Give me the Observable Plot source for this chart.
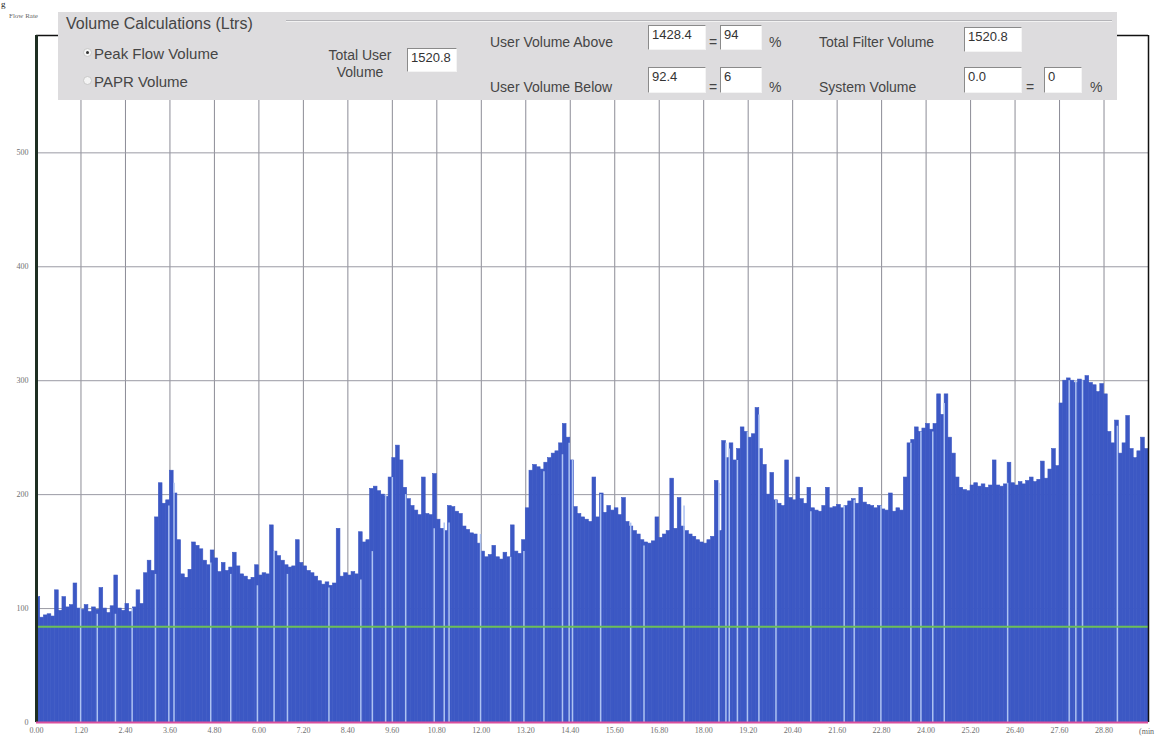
<!DOCTYPE html>
<html>
<head>
<meta charset="utf-8">
<script src="https://cdn.jsdelivr.net/npm/d3@7"></script>
<script src="https://cdn.jsdelivr.net/npm/@observablehq/plot@0.6"></script>
<style>
  html, body { margin: 0; padding: 0; background: #fff; }
  #wrap { position: relative; width: 1156px; height: 738px; overflow: hidden; font-family: "Liberation Sans", Arial, sans-serif; }
  #wrap svg { position: absolute; left: 0; top: 0; }
  .abs { position: absolute; white-space: nowrap; }
  #panel { position: absolute; left: 58px; top: 12px; width: 1059px; height: 88px; background: #dddcde; color: #454545; }
  #panel .t { position: absolute; white-space: nowrap; font-size: 14px; line-height: 16px; }
  #panel .box { position: absolute; background: #fff; border-top: 1px solid #8a8a8a; border-left: 1px solid #8a8a8a; border-right: 1px solid #f4f4f4; border-bottom: 1px solid #f4f4f4; font-size: 13px; line-height: 18px; padding-left: 3px; box-sizing: border-box; color: #333; }
  .radio { position: absolute; width: 9px; height: 9px; border-radius: 50%; border: 1px solid #c8c8c8; background: #f4f4f4; box-sizing: border-box; }
  .radio.on::after { content: ""; position: absolute; left: 2px; top: 2px; width: 3px; height: 3px; border-radius: 50%; background: #333; }
  .small { font-family: "Liberation Serif", serif; font-size: 8px; color: #666; }
</style>
</head>
<body>
<div id="wrap"></div>
<script>
// ---- data ----
const sampleStep = 0.1; // minutes per sample
const flowRate = [
  110, 92, 94, 95, 93, 116, 98, 110, 101, 103,
  122, 100, 99, 103, 97, 101, 99, 118, 100, 96,
  102, 129, 100, 98, 104, 97, 101, 116, 104, 131,
  142, 133, 180, 210, 192, 195, 221, 201, 160, 130,
  127, 134, 158, 155, 152, 142, 138, 151, 144, 132,
  140, 133, 136, 149, 137, 130, 128, 125, 127, 138,
  129, 131, 130, 173, 150, 146, 142, 138, 136, 137,
  160, 140, 137, 133, 131, 128, 124, 121, 123, 120,
  122, 170, 128, 131, 129, 132, 130, 167, 158, 160,
  205, 207, 203, 200, 198, 215, 232, 243, 230, 206,
  196, 190, 186, 182, 215, 183, 182, 218, 178, 170,
  168, 190, 189, 185, 183, 172, 169, 166, 165, 157,
  150, 145, 147, 155, 145, 143, 149, 145, 173, 150,
  148, 160, 188, 221, 226, 224, 222, 228, 232, 236,
  238, 245, 262, 250, 230, 189, 183, 180, 178, 176,
  215, 180, 201, 184, 190, 186, 188, 182, 197, 176,
  172, 168, 165, 160, 158, 157, 159, 180, 162, 165,
  168, 214, 170, 197, 172, 168, 165, 163, 160, 158,
  157, 160, 163, 212, 168, 247, 232, 245, 230, 240,
  259, 255, 250, 253, 276, 240, 226, 200, 219, 195,
  192, 190, 230, 197, 195, 215, 196, 192, 206, 188,
  186, 185, 190, 206, 188, 189, 191, 188, 190, 194,
  196, 192, 206, 193, 191, 190, 188, 190, 187, 186,
  201, 185, 188, 186, 215, 245, 248, 259, 255, 258,
  262, 257, 262, 288, 270, 288, 250, 236, 215, 206,
  204, 203, 208, 210, 207, 209, 206, 208, 230, 208,
  207, 209, 228, 210, 208, 211, 209, 212, 215, 211,
  213, 229, 214, 222, 240, 225, 280, 300, 302, 300,
  298, 301, 300, 304, 298, 296, 290, 297, 288, 255,
  245, 265, 236, 245, 269, 240, 232, 238, 250, 240
];
// light vertical streaks seen in the scan (time in min, height)
const streakTime = [1.19, 1.64, 2.13, 2.58, 3.21, 3.57, 3.71, 4.70, 5.24, 5.96, 6.41, 6.77,
  7.89, 8.75, 9.06, 9.42, 9.60, 9.96, 10.73, 11.00, 11.13, 11.98, 12.79, 13.15, 13.69, 14.19, 14.37, 14.46,
  15.22, 16.03, 16.39, 17.47, 18.41, 18.60, 18.69, 18.91, 19.18, 19.49, 19.95, 20.89, 21.79, 22.06,
  22.78, 23.59, 23.86, 24.18, 24.49, 26.20, 27.86, 28.04, 28.22, 29.16];
const streakHeight = [100, 95, 95, 100, 130, 190, 210, 140, 130, 120, 150, 130,
  118, 125, 150, 200, 215, 200, 170, 175, 175, 165, 145, 150, 220, 235, 245, 230,
  200, 175, 155, 190, 210, 245, 240, 230, 255, 270, 195, 185, 190, 195,
  190, 245, 255, 255, 280, 210, 300, 300, 300, 260];
const thresholdFlow = 84;
const xTicks = [0.00, 1.20, 2.40, 3.60, 4.80, 6.00, 7.20, 8.40, 9.60, 10.80, 12.00, 13.20, 14.40,
  15.60, 16.80, 18.00, 19.20, 20.40, 21.60, 22.80, 24.00, 25.20, 26.40, 27.60, 28.80];
const yTicks = [0, 100, 200, 300, 400, 500];
const xMax = 30;
const yMax = 603;

// ---- tables built from the arrays ----
const bars = flowRate.map((v, i) => ({t0: i * sampleStep, t1: (i + 1) * sampleStep, v}));
const streaks = streakTime.map((t, i) => ({t, h: streakHeight[i]}));

const chart = Plot.plot({
  width: 1156,
  height: 738,
  marginLeft: 36,
  marginRight: 8,
  marginTop: 35,
  marginBottom: 16,
  x: {domain: [0, xMax]},
  y: {domain: [0, yMax]},
  style: {fontFamily: "Liberation Serif, serif", fontSize: "8px", color: "#707070", background: "#fff"},
  marks: [
    Plot.gridX(xTicks.slice(1), {stroke: "#8c8c96", strokeOpacity: 1, strokeWidth: 1}),
    Plot.gridY(yTicks.slice(1), {stroke: "#9a9aa4", strokeOpacity: 1, strokeWidth: 1}),
    Plot.rectY(bars, {x1: "t0", x2: "t1", y: "v", fill: "#3c58c4", stroke: "#3c58c4", strokeWidth: 0.6}),
    Plot.ruleX(streaks, {x: "t", y1: 0, y2: "h", stroke: "#adc2f2", strokeWidth: 1.5}),
    Plot.ruleY([thresholdFlow], {stroke: "#6cbf58", strokeWidth: 2}),
    Plot.ruleY([yMax], {stroke: "#111", strokeWidth: 1.5}),
    Plot.ruleX([xMax], {stroke: "#111", strokeWidth: 1.5}),
    Plot.ruleX([0], {stroke: "#1e2e22", strokeWidth: 3}),
    Plot.ruleY([0], {stroke: "#d9509e", strokeWidth: 2}),
    Plot.axisX(xTicks, {tickSize: 0, tickPadding: 5, tickFormat: d => d.toFixed(2), label: null, fill: "#707070"}),
    Plot.axisY(yTicks, {tickSize: 0, tickPadding: 8, label: null, fill: "#707070"})
  ]
});

const wrap = document.getElementById("wrap");
wrap.appendChild(chart);

wrap.insertAdjacentHTML("beforeend", `
  <div class="abs" style="left:1px;top:0px;font-family:'Liberation Serif',serif;font-size:9px;line-height:9px;color:#222;">g</div>
  <div class="abs small" style="left:9px;top:12px;font-size:7px;">Flow Rate</div>
  <div class="abs small" style="left:1139px;top:727px;">(min</div>
  <div id="panel">
    <div style="position:absolute;left:228px;top:8px;width:826px;border-top:1px solid #b4b4b8;border-bottom:1px solid #f2f2f2;"></div>
    <div class="t" style="left:8px;top:3px;font-size:16px;line-height:18px;">Volume Calculations (Ltrs)</div>
    <div class="radio on" style="left:25px;top:36px;"></div>
    <div class="t" style="left:36px;top:33px;font-size:15px;line-height:17px;">Peak Flow Volume</div>
    <div class="radio" style="left:25px;top:64px;"></div>
    <div class="t" style="left:36px;top:61px;font-size:15px;line-height:17px;">PAPR Volume</div>
    <div class="t" style="left:262px;top:35px;width:80px;text-align:center;line-height:17px;">Total User<br>Volume</div>
    <div class="box" style="left:349px;top:36px;width:50px;height:24px;">1520.8</div>
    <div class="t" style="left:432px;top:22px;">User Volume Above</div>
    <div class="box" style="left:590px;top:13px;width:58px;height:25px;">1428.4</div>
    <div class="t" style="left:651px;top:22px;">=</div>
    <div class="box" style="left:662px;top:13px;width:42px;height:25px;">94</div>
    <div class="t" style="left:711px;top:22px;">%</div>
    <div class="t" style="left:432px;top:67px;">User Volume Below</div>
    <div class="box" style="left:590px;top:55px;width:58px;height:26px;">92.4</div>
    <div class="t" style="left:651px;top:67px;">=</div>
    <div class="box" style="left:662px;top:55px;width:42px;height:26px;">6</div>
    <div class="t" style="left:711px;top:67px;">%</div>
    <div class="t" style="left:761px;top:22px;">Total Filter Volume</div>
    <div class="box" style="left:906px;top:15px;width:58px;height:25px;">1520.8</div>
    <div class="t" style="left:761px;top:67px;">System Volume</div>
    <div class="box" style="left:906px;top:55px;width:58px;height:26px;">0.0</div>
    <div class="t" style="left:968px;top:67px;">=</div>
    <div class="box" style="left:986px;top:55px;width:38px;height:26px;">0</div>
    <div class="t" style="left:1032px;top:67px;">%</div>
  </div>
`);
</script>
</body>
</html>
